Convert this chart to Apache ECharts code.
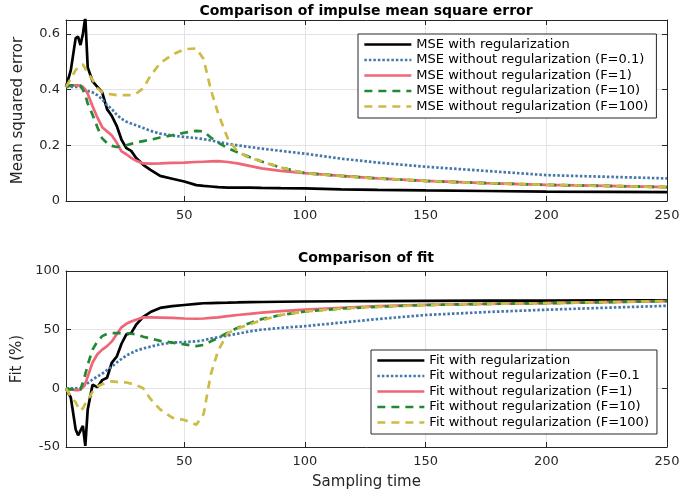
<!DOCTYPE html>
<html><head><meta charset="utf-8">
<script src="https://cdn.jsdelivr.net/npm/echarts@6/dist/echarts.min.js"></script>
<style>html,body{margin:0;padding:0;background:#fff}#c{width:699px;height:494px}</style>
</head><body><div id="c"></div><script>
const sampleTimes = [1,3,5,6,7,8,9,10,12,14,16,18,20,22,24,26,28,30,33,36,40,45,50,55,58,61,64,68,72,77,82,90,100,115,130,150,175,200,225,250];
const xTicks = [50,100,150,200,250];

// MSE
const mseReg   = [0.41,0.47,0.585,0.59,0.56,0.60,0.66,0.48,0.43,0.41,0.39,0.33,0.305,0.27,0.22,0.19,0.18,0.155,0.13,0.112,0.09,0.08,0.07,0.057,0.054,0.052,0.05,0.048,0.048,0.048,0.047,0.046,0.045,0.042,0.04,0.038,0.036,0.034,0.033,0.032];
const mseF01   = [0.41,0.41,0.41,0.41,0.41,0.405,0.40,0.395,0.39,0.38,0.365,0.345,0.33,0.31,0.295,0.285,0.278,0.272,0.262,0.252,0.242,0.235,0.23,0.226,0.222,0.218,0.212,0.205,0.2,0.194,0.188,0.18,0.17,0.152,0.138,0.123,0.108,0.093,0.087,0.081];
const mseF1    = [0.415,0.415,0.415,0.415,0.414,0.41,0.40,0.385,0.34,0.30,0.265,0.25,0.235,0.21,0.178,0.168,0.155,0.145,0.135,0.134,0.135,0.137,0.138,0.14,0.141,0.142,0.143,0.14,0.135,0.126,0.117,0.108,0.10,0.09,0.081,0.072,0.064,0.058,0.054,0.05];
const mseF10   = [0.41,0.415,0.415,0.415,0.414,0.40,0.38,0.35,0.31,0.265,0.225,0.208,0.198,0.194,0.196,0.20,0.205,0.21,0.215,0.22,0.228,0.236,0.245,0.252,0.25,0.228,0.21,0.19,0.175,0.158,0.142,0.12,0.10,0.09,0.081,0.072,0.064,0.058,0.054,0.05];
const mseF100  = [0.41,0.44,0.47,0.48,0.49,0.49,0.475,0.46,0.435,0.405,0.39,0.385,0.383,0.38,0.38,0.38,0.38,0.385,0.405,0.45,0.495,0.525,0.545,0.548,0.51,0.40,0.315,0.225,0.178,0.155,0.142,0.12,0.10,0.09,0.081,0.072,0.064,0.058,0.054,0.05];

// Fit
const fitReg   = [0,-8,-35,-40,-36,-32,-49,-18,3,1,7,9,22,27,38,46,47,54,61,65,68.5,70,71,72,72.5,72.7,72.9,73,73.2,73.5,73.6,73.8,74,74.2,74.4,74.5,74.7,74.8,74.9,75];
const fitF01   = [0,0,0,0,0,1,3,4.5,7.5,10,12.5,15.5,18.5,22,25,28,30,32,34,35.5,37.5,39,39.5,40,41,42.5,43.5,45,46.5,48.5,50,51.5,53,56,59,62.5,65,67,68.7,70.3];
const fitF1    = [0,-1,-1.5,-1.5,-1,1,4,10,22,29,33,36,40,46,52,55,57,58.5,60.5,60.5,60.3,60,59.5,59.3,59.5,60,60.5,61.5,62.5,63.5,64.5,65.8,67,68.7,70,71.2,72,72.6,73.5,74.4];
const fitF10   = [0,-1,-1,-1,-1,5,12,20,33,40,44.5,46.5,47,47,47,47,46.5,46,44,42.5,40.5,39,37.5,36,37,40,43,47.5,51.5,55.5,59,62.5,65.5,68,69.5,71,72,72.6,73.5,74.4];
const fitF100  = [0,-7,-12,-16,-19,-17,-13,-10,-3,1.5,3.5,5,6,5.5,5,5,4,3,0,-9,-18,-25,-27,-31,-22,12,32,47,51,54.5,58,62.5,65.5,68,69.5,71,72,72.6,73.5,74.4];

const mseNames = ['MSE with regularization','MSE without regularization (F=0.1)','MSE without regularization (F=1)','MSE without regularization (F=10)','MSE without regularization (F=100)'];
const fitNames = ['Fit with regularization','Fit without regularization (F=0.1','Fit without regularization (F=1)','Fit without regularization (F=10)','Fit without regularization (F=100)'];

const colors = ['#000000','#4477AA','#EE6677','#228833','#CCBB44'];
const dashes = ['solid',[2.5,2],'solid',[8,6],[8,6]];
const FONT = 'DejaVu Sans';
const AX = '#262626';

function mk(arr){ return sampleTimes.map((t,i)=>[t,arr[i]]); }
function series(names, arrs, gi){
  return arrs.map((a,i)=>({
    name:names[i], type:'line', xAxisIndex:gi*2, yAxisIndex:gi*2,
    data:mk(a), symbol:'none', showSymbol:false, smooth:false, clip:true,
    lineStyle:{color:colors[i], width:2.7, type:dashes[i], cap:'butt'},
    itemStyle:{color:colors[i]}, z:2+i
  }));
}
function xAxes(gi, showName){
  return [
    {gridIndex:gi, type:'value', min:1, max:250, position:'bottom',
     name: showName?'Sampling time':'', nameLocation:'middle', nameGap:28,
     nameTextStyle:{fontFamily:FONT,fontSize:15,color:AX},
     axisLine:{show:true,onZero:false,lineStyle:{color:AX,width:1}},
     axisTick:{show:true,inside:true,length:5,customValues:xTicks,lineStyle:{color:AX}},
     axisLabel:{show:true,customValues:xTicks,fontFamily:FONT,fontSize:13,color:AX,margin:8},
     splitLine:{show:true,lineStyle:{color:'#e3e3e3',width:1}}},
    {gridIndex:gi, type:'value', min:1, max:250, position:'top',
     axisLine:{show:true,onZero:false,lineStyle:{color:AX,width:1}},
     axisTick:{show:true,inside:true,length:5,customValues:xTicks,lineStyle:{color:AX}},
     axisLabel:{show:false}, splitLine:{show:false}}
  ];
}
function yAxes(gi, min, max, interval, name, fmt){
  return [
    {gridIndex:gi, type:'value', min:min, max:max, interval:interval, position:'left',
     name:name, nameLocation:'middle', nameGap:40, nameRotate:90,
     nameTextStyle:{fontFamily:FONT,fontSize:15,color:AX},
     axisLine:{show:true,onZero:false,lineStyle:{color:AX,width:1}},
     axisTick:{show:true,inside:true,length:5,lineStyle:{color:AX}},
     axisLabel:{show:true,fontFamily:FONT,fontSize:13,color:AX,margin:6,formatter:fmt},
     splitLine:{show:true,lineStyle:{color:'#e3e3e3',width:1}}},
    {gridIndex:gi, type:'value', min:min, max:max, interval:interval, position:'right',
     axisLine:{show:true,onZero:false,lineStyle:{color:AX,width:1}},
     axisTick:{show:true,inside:true,length:5,lineStyle:{color:AX}},
     axisLabel:{show:false}, splitLine:{show:false}}
  ];
}
function legend(names, left, top){
  return {
    data:names, orient:'vertical', left:left, top:top,
    itemWidth:47, itemHeight:14, itemGap:2.5,
    padding:[4,8,5,5], backgroundColor:'#ffffff',
    borderColor:AX, borderWidth:1, borderRadius:0,
    itemStyle:{color:'rgba(0,0,0,0)', borderWidth:0, opacity:0},
    lineStyle:{width:2.7},
    textStyle:{fontFamily:FONT,fontSize:13,color:'#000'},
    selectedMode:false, z:20
  };
}

const chart = echarts.init(document.getElementById('c'), null, {renderer:'canvas'});
chart.setOption({
  animation:false,
  backgroundColor:'#ffffff',
  title:[
    {text:'Comparison of impulse mean square error', left:366, top:4, textAlign:'center', padding:0,
     textStyle:{fontFamily:FONT,fontSize:14,fontWeight:'bold',color:'#000'}},
    {text:'Comparison of fit', left:366, top:251, textAlign:'center', padding:0,
     textStyle:{fontFamily:FONT,fontSize:14,fontWeight:'bold',color:'#000'}}
  ],
  grid:[
    {left:66, width:601, top:20, height:181},
    {left:66, width:601, top:271, height:176}
  ],
  xAxis:[...xAxes(0,false), ...xAxes(1,true)],
  yAxis:[
    ...yAxes(0, 0, 0.65, 0.2, 'Mean squared error', v=> (Math.abs(v-0.65)<1e-9 ? '' : String(Math.round(v*10)/10))),
    ...yAxes(1, -50, 100, 50, 'Fit (%)', v=>String(v))
  ],
  legend:[legend(mseNames, 358, 34), legend(fitNames, 371, 350)],
  series:[...series(mseNames,[mseReg,mseF01,mseF1,mseF10,mseF100],0),
          ...series(fitNames,[fitReg,fitF01,fitF1,fitF10,fitF100],1)]
});
</script></body></html>
